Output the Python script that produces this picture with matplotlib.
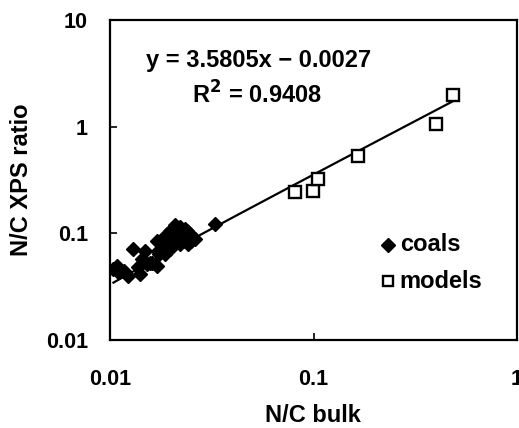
import numpy as np
import matplotlib
matplotlib.use("Agg")
import matplotlib.pyplot as plt

plt.rcParams['font.family'] = ['Liberation Sans', 'DejaVu Sans']
plt.rcParams['font.weight'] = 'bold'

# coals (diamonds)
coals_x = [0.01079, 0.01098, 0.01034, 0.0123, 0.0130, 0.01376, 0.01403, 0.01484,
           0.01513, 0.01435, 0.01694, 0.01744, 0.01758, 0.01825, 0.01897, 0.01968,
           0.02043, 0.02123, 0.02204, 0.02288, 0.02377, 0.02466, 0.02514, 0.02204,
           0.01968, 0.01862, 0.01924, 0.02083, 0.02331, 0.02412, 0.0327, 0.01571,
           0.01171, 0.02155, 0.02013, 0.0208, 0.0170, 0.0172, 0.0233, 0.0261,
           0.0160]
coals_y = [0.0498, 0.0431, 0.0467, 0.0402, 0.0714, 0.0480, 0.0416, 0.0689,
           0.0517, 0.0580, 0.0498, 0.0641, 0.0854, 0.0739, 0.0987, 0.106,
           0.0854, 0.0987, 0.1138, 0.0917, 0.106, 0.0987, 0.0854, 0.0796,
           0.0714, 0.0641, 0.0892, 0.093, 0.0854, 0.080, 0.1225, 0.0531,
           0.0447, 0.106, 0.095, 0.1207, 0.0854, 0.0689, 0.1107, 0.0892,
           0.053]

# models (open squares)
models_x = [0.0807, 0.0993, 0.105, 0.165, 0.402, 0.485]
models_y = [0.242, 0.251, 0.324, 0.534, 1.06, 1.98]

# linear fit shown on chart
slope = 3.5805
intercept = -0.0027
fit_range = [0.0104, 0.48]

x_ticks = [0.01, 0.1, 1]
x_ticklabels = ['0.01', '0.1', '1']
y_ticks = [0.01, 0.1, 1, 10]
y_ticklabels = ['0.01', '0.1', '1', '10']
series_names = ['coals', 'models']

FS = 17
TFS = 15.5

fig = plt.figure(figsize=(5.19, 4.28), dpi=100)
ax = fig.add_axes([110/519, 1-340/428, 407/519, 320/428])
ax.set_xscale('log')
ax.set_yscale('log')
ax.set_xlim(0.01, 1)
ax.set_ylim(0.01, 10)

fx = np.geomspace(fit_range[0], fit_range[1], 100)
ax.plot(fx, slope * fx + intercept, color='black', lw=1.6, zorder=2)

ax.plot(coals_x, coals_y, linestyle='none', marker='D', ms=7.5, color='black',
        mec='black', zorder=3)
ax.plot(models_x, models_y, linestyle='none', marker='s', ms=8.5, mfc='white',
        mec='black', mew=1.7, zorder=3)

ax.set_xticks(x_ticks)
ax.set_xticklabels(x_ticklabels)
ax.set_yticks(y_ticks)
ax.set_yticklabels(y_ticklabels)
ax.minorticks_off()
ax.tick_params(axis='both', direction='in', length=5, width=1.2, labelsize=TFS)
ax.tick_params(axis='x', pad=21)
ax.tick_params(axis='y', pad=16)
for s in ax.spines.values():
    s.set_linewidth(1.6)

ax.set_xlabel('N/C bulk', fontsize=FS, fontweight='bold')
ax.set_ylabel('N/C XPS ratio', fontsize=FS, fontweight='bold')
ax.xaxis.set_label_coords((313-110)/407, (340-415)/320)
ax.xaxis.label.set_va('center')
ax.yaxis.set_label_coords((22-110)/407, 0.5)
ax.yaxis.label.set_va('center')

ax.text(0.364, 0.875, 'y = 3.5805x \u2212 0.0027', transform=ax.transAxes,
        ha='center', va='center', fontsize=FS, fontweight='bold')
ax.text(0.362, 0.766, 'R$^\\mathbf{2}$ = 0.9408', transform=ax.transAxes,
        ha='center', va='center', fontsize=FS, fontweight='bold')

# legend (manual, frameless)
ax.plot([0.683], [0.297], transform=ax.transAxes, linestyle='none', marker='D',
        ms=7, color='black', clip_on=False)
ax.plot([0.683], [0.184], transform=ax.transAxes, linestyle='none', marker='s',
        ms=7, mfc='white', mec='black', mew=1.7, clip_on=False)
ax.text(0.712, 0.297, series_names[0], transform=ax.transAxes, ha='left',
        va='center', fontsize=FS, fontweight='bold')
ax.text(0.712, 0.184, series_names[1], transform=ax.transAxes, ha='left',
        va='center', fontsize=FS, fontweight='bold')

fig.savefig('out.png', dpi=100)
